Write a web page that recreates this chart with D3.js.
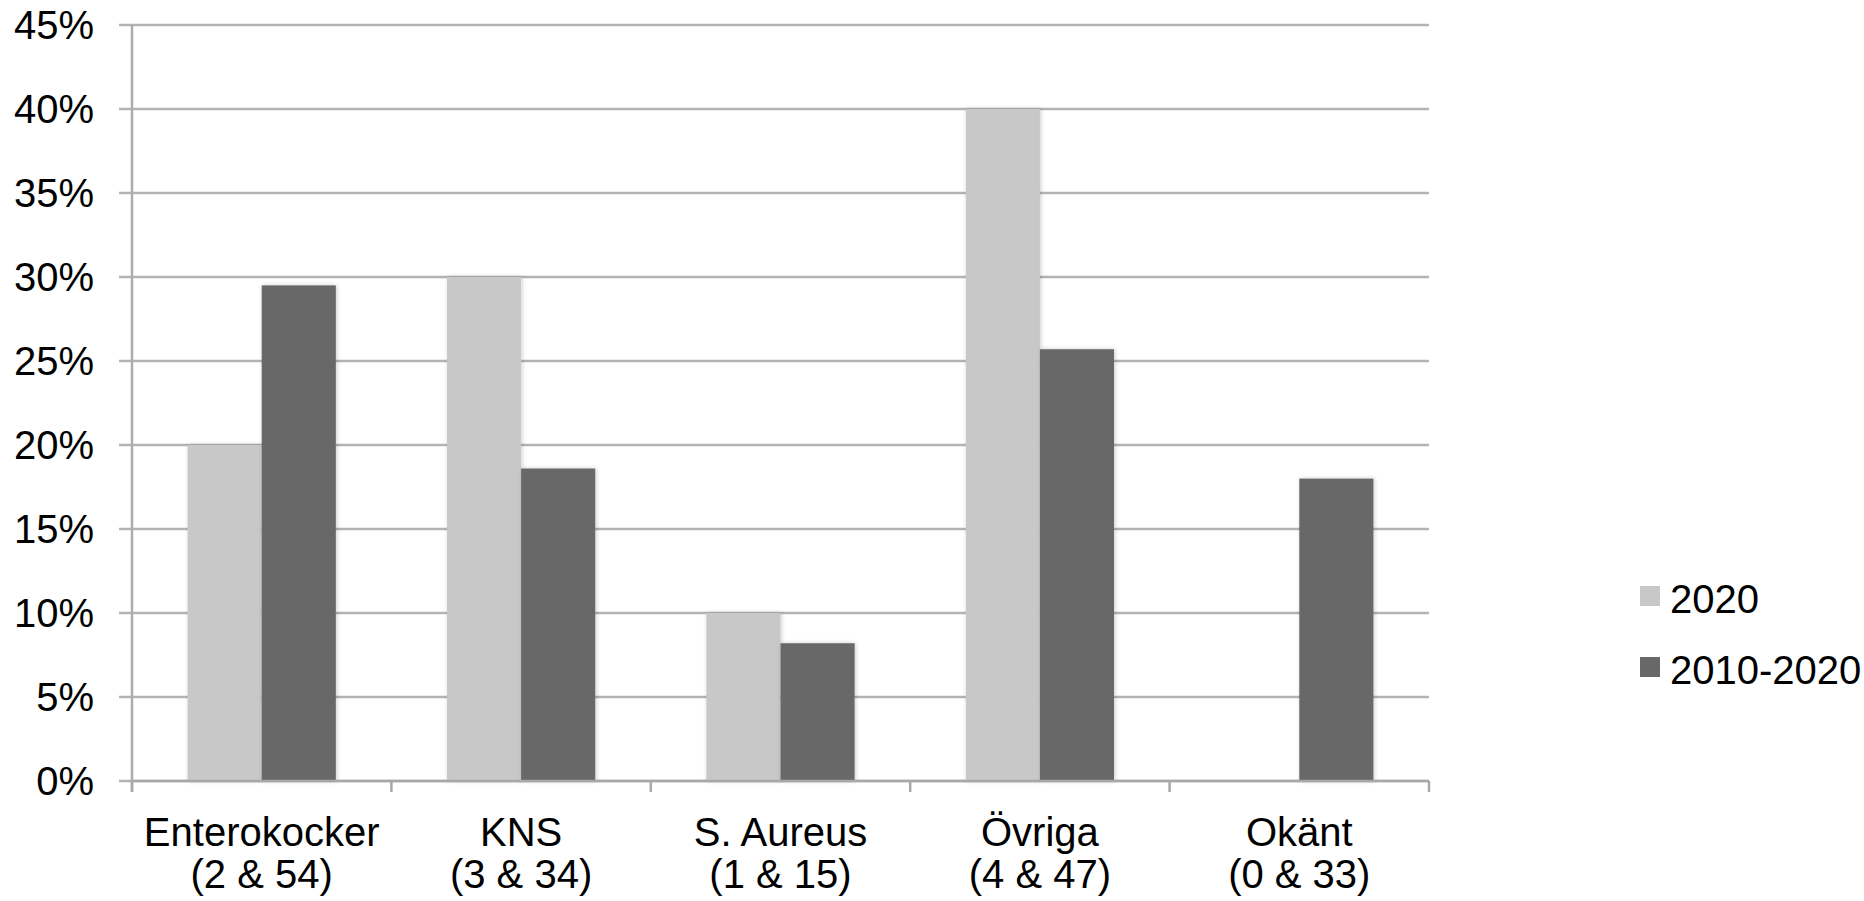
<!DOCTYPE html>
<html>
<head>
<meta charset="utf-8">
<script src="https://cdn.jsdelivr.net/npm/d3@7"></script>
<style>
  body { margin: 0; background: #fff; }
  text { font-family: "Liberation Sans", Arial, sans-serif; fill: #000; }
</style>
</head>
<body>
<svg id="chart" width="1864" height="901"></svg>
<script>
// categories and their count labels
const categories = ['Enterokocker', 'KNS', 'S. Aureus', 'Övriga', 'Okänt']
const countLabels = ['(2 & 54)', '(3 & 34)', '(1 & 15)', '(4 & 47)', '(0 & 33)']
const seriesNames = ['2020', '2010-2020']
const values2020 = [20, 30, 10, 40, 0]
const values2010to2020 = [29.5, 18.6, 8.2, 25.7, 18.0]
const yTicks = [0, 5, 10, 15, 20, 25, 30, 35, 40, 45]

const colors = ['#c8c8c8', '#686868']
const margin = { top: 25, left: 132, right: 1429, bottom: 781 }
const fontSize = 40

const svg = d3.select('#chart')

const defs = svg.append('defs')
const shadow = defs.append('filter').attr('id', 'shadow')
  .attr('x', '-20%').attr('y', '-5%').attr('width', '140%').attr('height', '110%')
shadow.append('feDropShadow')
  .attr('dx', 1).attr('dy', 0).attr('stdDeviation', 2)
  .attr('flood-color', '#000').attr('flood-opacity', 0.2)

const x = d3.scaleBand()
  .domain(categories)
  .range([margin.left, margin.right])
  .padding(0)

const xInner = d3.scaleBand()
  .domain(seriesNames)
  .range([0, x.bandwidth()])
  .paddingInner(0)
  .paddingOuter(0.75)

const y = d3.scaleLinear()
  .domain([0, 45])
  .range([margin.bottom, margin.top])

// gridlines
svg.append('g')
  .selectAll('line')
  .data(yTicks)
  .join('line')
  .attr('x1', margin.left - 13)
  .attr('x2', margin.right)
  .attr('y1', d => y(d))
  .attr('y2', d => y(d))
  .attr('stroke', '#b3b3b3')
  .attr('stroke-width', 2.5)

// y axis line
svg.append('line')
  .attr('x1', margin.left).attr('x2', margin.left)
  .attr('y1', margin.top).attr('y2', margin.bottom + 11)
  .attr('stroke', '#adadad')
  .attr('stroke-width', 2.5)

// y labels
svg.append('g')
  .selectAll('text')
  .data(yTicks)
  .join('text')
  .attr('x', 94)
  .attr('y', d => y(d))
  .attr('dy', '0.35em')
  .attr('text-anchor', 'end')
  .attr('font-size', fontSize)
  .text(d => d + '%')

// bars
const rows = categories.map((c, i) => ({ cat: c, vals: [values2020[i], values2010to2020[i]] }))

const groups = svg.append('g')
  .selectAll('g')
  .data(rows)
  .join('g')
  .attr('transform', d => `translate(${x(d.cat)},0)`)

groups.selectAll('rect')
  .data(d => d.vals.map((v, j) => ({ key: seriesNames[j], v, j })))
  .join('rect')
  .filter(d => d.v > 0)
  .attr('x', d => xInner(d.key))
  .attr('width', xInner.bandwidth())
  .attr('y', d => y(d.v))
  .attr('height', d => y(0) - y(d.v))
  .attr('fill', d => colors[d.j])
  .attr('filter', 'url(#shadow)')

// x axis line + category ticks
svg.append('line')
  .attr('x1', margin.left).attr('x2', margin.right)
  .attr('y1', margin.bottom).attr('y2', margin.bottom)
  .attr('stroke', '#a8a8a8')
  .attr('stroke-width', 2.5)

const boundaries = categories.map(c => x(c)).concat([margin.right])
svg.append('g')
  .selectAll('line')
  .data(boundaries)
  .join('line')
  .attr('x1', d => d).attr('x2', d => d)
  .attr('y1', margin.bottom).attr('y2', margin.bottom + 11)
  .attr('stroke', '#a8a8a8')
  .attr('stroke-width', 2.5)

// x labels
const xl = svg.append('g')
  .selectAll('text')
  .data(categories)
  .join('text')
  .attr('x', d => x(d) + x.bandwidth() / 2)
  .attr('text-anchor', 'middle')
  .attr('font-size', fontSize)

xl.append('tspan')
  .attr('x', d => x(d) + x.bandwidth() / 2)
  .attr('y', 846)
  .text(d => d)
xl.append('tspan')
  .attr('x', d => x(d) + x.bandwidth() / 2)
  .attr('y', 888)
  .text((d, i) => countLabels[i])

// legend
const legend = svg.append('g')
  .selectAll('g')
  .data(seriesNames)
  .join('g')
  .attr('transform', (d, i) => `translate(1640,${586 + i * 71})`)

legend.append('rect')
  .attr('width', 20).attr('height', 20)
  .attr('fill', (d, i) => colors[i])

legend.append('text')
  .attr('x', 30)
  .attr('y', 27)
  .attr('font-size', fontSize)
  .text(d => d)
</script>
</body>
</html>
